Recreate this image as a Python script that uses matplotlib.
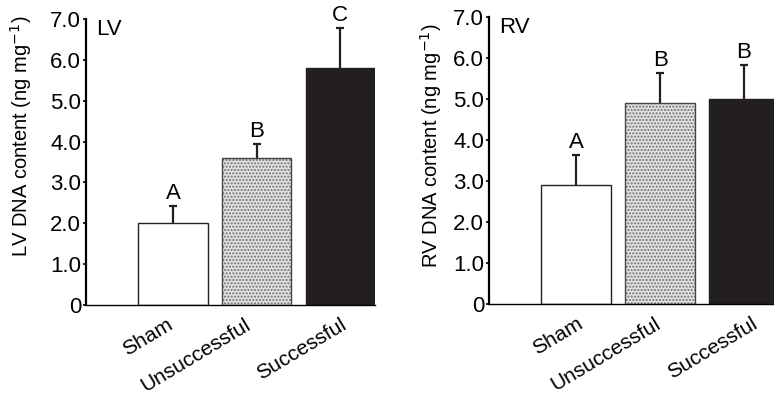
import matplotlib
matplotlib.use("Agg")
import matplotlib.pyplot as plt

plt.rcParams["font.family"] = ["Liberation Sans", "DejaVu Sans"]

groups = ["Sham", "Unsuccessful", "Successful"]
lv_mean = [2.0, 3.6, 5.8]
lv_err = [0.42, 0.35, 0.98]
lv_letters = ["A", "B", "C"]
rv_mean = [2.9, 4.9, 5.0]
rv_err = [0.73, 0.72, 0.82]
rv_letters = ["A", "B", "B"]
yticks = [0, 1, 2, 3, 4, 5, 6, 7]
ytick_labels = ["0", "1.0", "2.0", "3.0", "4.0", "5.0", "6.0", "7.0"]

W = 0.83
fig = plt.figure(figsize=(7.74, 3.96), dpi=100)
ax_lv = fig.add_axes([0.1111, 0.2298, 0.3734, 0.7222])
ax_rv = fig.add_axes([0.6318, 0.2316, 0.3745, 0.7262])


def panel(ax, means, errs, letters, name, label_xy, nudges):
    x = list(range(len(groups)))
    # sham: white, unsuccessful: grey dots, successful: black
    ax.bar(0, means[0], W, color="white", edgecolor="#222222", lw=1.0, zorder=2)
    ax.bar(1, means[1], W, color="#e2e2e2", edgecolor="#6e6e6e", hatch=".....",
           lw=0, zorder=2)
    ax.bar(1, means[1], W, fill=False, edgecolor="#444444", lw=1.0, zorder=3)
    ax.bar(2, means[2], W, color="#231f20", edgecolor="#231f20", lw=1.0, zorder=2)
    _, caps, _ = ax.errorbar(x, means, yerr=[[0] * 3, errs], fmt="none",
                             ecolor="#231f20", elinewidth=1.6, capsize=3.2,
                             capthick=1.6, zorder=1)
    caps[0].set_visible(False)  # upper whisker only
    for i, (m, e, l) in enumerate(zip(means, errs, letters)):
        ax.text(i, m + e + 0.05, l, ha="center", va="bottom", fontsize=16)
    ax.set_xlim(-1.04, 2.415)
    ax.set_ylim(0, 7.0)
    ax.set_yticks(yticks)
    ax.set_yticklabels(ytick_labels, fontsize=16)
    ax.set_xticks([])
    # group names, rotated, nudged a little like the original layout
    for i, (g, dx) in enumerate(zip(groups, nudges)):
        ax.annotate(g, xy=(i, 0), xycoords=("data", "axes fraction"),
                    xytext=(dx * 0.72, -7), textcoords="offset points",
                    rotation=31, ha="right", va="top", rotation_mode="anchor",
                    fontsize=15, annotation_clip=False)
    ax.tick_params(axis="y", length=2.5, width=1.2, pad=1)
    for s in ["top", "right"]:
        ax.spines[s].set_visible(False)
    ax.spines["left"].set_linewidth(1.6)
    ax.spines["bottom"].set_linewidth(1.0)
    ax.set_ylabel(f"{name} DNA content (ng mg$^{{-1}}$)", fontsize=14.5)
    ax.yaxis.set_label_coords(*label_xy)
    ax.text(0.035, 1.0, name, transform=ax.transAxes, ha="left", va="top",
            fontsize=16)


panel(ax_lv, lv_mean, lv_err, lv_letters, "LV", (-0.18, 0.59), [-7, -12, 0])
panel(ax_rv, rv_mean, rv_err, rv_letters, "RV", (-0.155, 0.55), [0, -6, 7])

fig.savefig("out.png", dpi=100)
